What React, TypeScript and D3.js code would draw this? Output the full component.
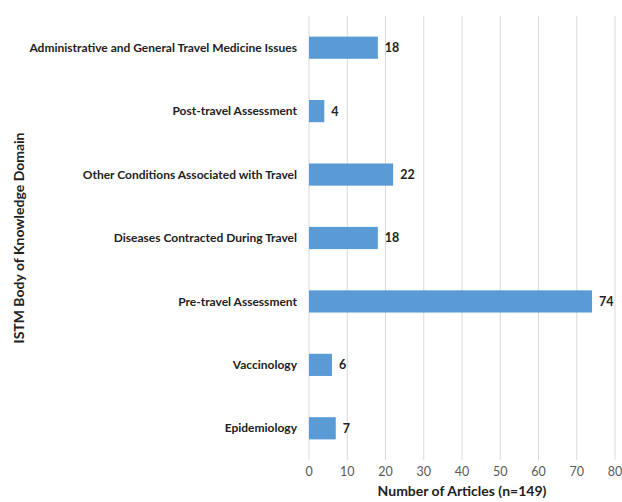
import React, { useRef, useEffect } from "react";
import * as d3 from "d3";

const categories = [
  "Administrative and General Travel Medicine Issues",
  "Post-travel Assessment",
  "Other Conditions Associated with Travel",
  "Diseases Contracted During Travel",
  "Pre-travel Assessment",
  "Vaccinology",
  "Epidemiology",
];
const articleCounts = [18, 4, 22, 18, 74, 6, 7];
const xTicks = [0, 10, 20, 30, 40, 50, 60, 70, 80];

const width = 622;
const height = 502;
const margin = { top: 16, right: 7, bottom: 42, left: 309 };
const font = "Lato, 'Open Sans', sans-serif";

const App: React.FC = () => {
  const svgRef = useRef<SVGSVGElement | null>(null);

  useEffect(() => {
    if (!svgRef.current) return;
    const svg = d3.select(svgRef.current);
    svg.selectAll("*").remove();

    const x = d3.scaleLinear().domain([0, 80]).range([margin.left, width - margin.right]);
    const y = d3
      .scaleBand<string>()
      .domain(categories)
      .range([margin.top, height - margin.bottom])
      .paddingInner(0.65)
      .paddingOuter(0.325);

    // gridlines
    svg
      .append("g")
      .selectAll("line")
      .data(xTicks)
      .join("line")
      .attr("x1", (d) => x(d))
      .attr("x2", (d) => x(d))
      .attr("y1", margin.top)
      .attr("y2", height - margin.bottom)
      .attr("stroke", "#d9d9d9")
      .attr("stroke-width", 1);

    // tick labels
    svg
      .append("g")
      .selectAll("text")
      .data(xTicks)
      .join("text")
      .attr("x", (d) => x(d))
      .attr("y", height - margin.bottom + 16)
      .attr("text-anchor", "middle")
      .attr("font-family", font)
      .attr("font-size", 12.5)
      .attr("fill", "#595959")
      .text((d) => d);

    const rows = categories.map((c, i) => ({ c, v: articleCounts[i] }));

    // bars
    svg
      .append("g")
      .selectAll("rect")
      .data(rows)
      .join("rect")
      .attr("x", x(0))
      .attr("y", (d) => y(d.c)!)
      .attr("width", (d) => x(d.v) - x(0))
      .attr("height", y.bandwidth())
      .attr("fill", "#5b9bd5");

    // value labels
    svg
      .append("g")
      .selectAll("text")
      .data(rows)
      .join("text")
      .attr("x", (d) => x(d.v) + 7)
      .attr("y", (d) => y(d.c)! + y.bandwidth() / 2)
      .attr("dy", "0.35em")
      .attr("font-family", font)
      .attr("font-size", 12.5)
      .attr("font-weight", "bold")
      .attr("fill", "#222")
      .text((d) => d.v);

    // category labels
    svg
      .append("g")
      .selectAll("text")
      .data(categories)
      .join("text")
      .attr("x", margin.left - 12)
      .attr("y", (d) => y(d)! + y.bandwidth() / 2)
      .attr("dy", "0.35em")
      .attr("text-anchor", "end")
      .attr("font-family", font)
      .attr("font-size", 12)
      .attr("font-weight", "bold")
      .attr("fill", "#222")
      .text((d) => d);

    // axis titles
    svg
      .append("text")
      .attr("x", (x(0) + x(80)) / 2)
      .attr("y", height - 6)
      .attr("text-anchor", "middle")
      .attr("font-family", font)
      .attr("font-size", 14)
      .attr("font-weight", "bold")
      .attr("fill", "#222")
      .text("Number of Articles (n=149)");

    svg
      .append("text")
      .attr("transform", `translate(24,${(margin.top + height - margin.bottom) / 2}) rotate(-90)`)
      .attr("text-anchor", "middle")
      .attr("font-family", font)
      .attr("font-size", 14)
      .attr("font-weight", "bold")
      .attr("fill", "#222")
      .text("ISTM Body of Knowledge Domain");
  }, []);

  return (
    <svg
      ref={svgRef}
      width={width}
      height={height}
      style={{ position: "absolute", left: 0, top: 0, background: "#fff" }}
    />
  );
};

export default App;
